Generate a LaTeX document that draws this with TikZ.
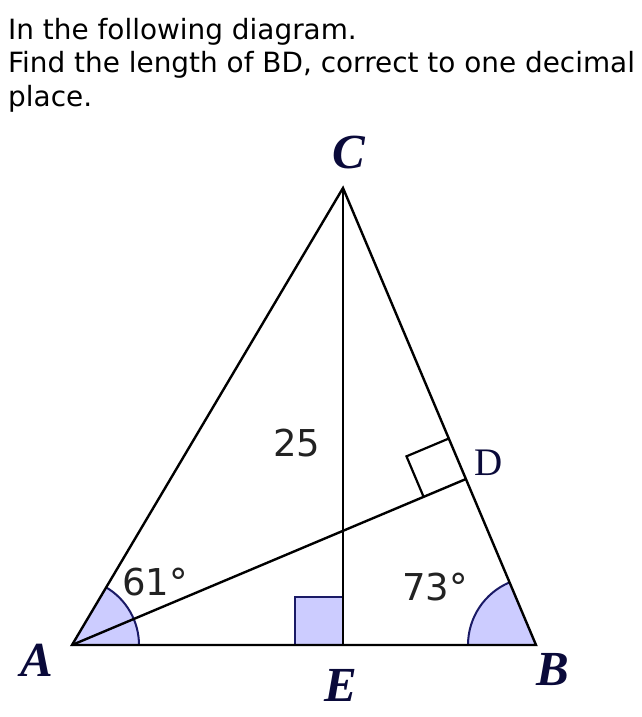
\documentclass[tikz,border=0pt]{standalone}
\usepackage{fontspec}
\setmainfont{DejaVu Sans}
\newfontfamily\lblfont{Liberation Serif}
\usetikzlibrary{calc,angles}
\definecolor{lav}{HTML}{CCCCFF}
\definecolor{navy}{HTML}{1A1A66}
\definecolor{lblnavy}{HTML}{0A0A3A}
\definecolor{numgray}{HTML}{222222}
\tikzset{
  edge/.style={line width=2.4pt, black},
  title/.style={anchor=base west, inner sep=0pt, font=\fontsize{27.9}{32}\selectfont},
  vlabel/.style={inner sep=0pt, text=lblnavy, font=\fontsize{49}{52}\selectfont\lblfont\bfseries\itshape},
  dlabel/.style={inner sep=0pt, text=lblnavy, font=\fontsize{39}{42}\selectfont\lblfont},
  num/.style={inner sep=0pt, text=numgray, font=\fontsize{37}{40}\selectfont},
  angfill/.style={fill=lav, draw=navy, line width=2pt, angle radius=67pt},
}
\begin{document}
\begin{tikzpicture}[x=1pt,y=-1pt]
\useasboundingbox (0,0) rectangle (642,717);
\node[title] (t1) at (8,40) {In the following diagram.};
\node[title] (t2) at (8,73) {Find the length of BD, correct to one decimal};
\node[title] (t3) at (8,106) {place.};
\coordinate (A) at (72,645);
\coordinate (B) at (536,645);
\coordinate (C) at (343,188);
\coordinate (E) at (343,645);
\coordinate (D) at (466,479);
% angle sectors
\pic[angfill] {angle = B--A--C};
\pic[angfill, angle radius=68pt] {angle = C--B--A};
% right angle at E
\draw[fill=lav, draw=navy, line width=2pt] (295,645) rectangle (343,597);
% right angle at D
\coordinate (P1) at ($(D)!44pt!(C)$);
\coordinate (P3) at ($(D)!46pt!(A)$);
\coordinate (P2) at ($(P1)+(P3)-(D)$);
\draw[line width=2.2pt] (P1) -- (P2) -- (P3);
% lines
\draw[edge] (A) -- (B) -- (C) -- cycle;
\draw[edge] (C) -- (E);
\draw[edge] (A) -- (D);
% labels
\node[vlabel] (lA) at (37,660) {A};
\node[vlabel] (lB) at (553,670) {B};
\node[vlabel] (lC) at (349,153) {C};
\node[vlabel] (lE) at (341,685) {E};
\node[dlabel] (lD) at (489,463) {D};
\node[num] (n61) at (155,582) {61°};
\node[num] (n73) at (435,587) {73°};
\node[num] (n25) at (297,443) {25};
\end{tikzpicture}
\end{document}
